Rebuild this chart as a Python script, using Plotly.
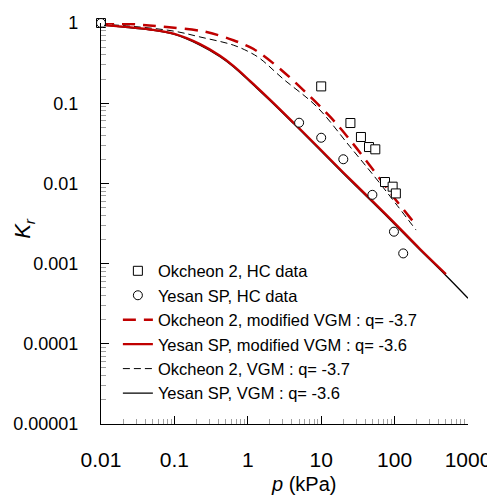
import plotly.graph_objects as go

# ---- data ----
ok_data_p = [0.01, 10, 25, 34.8, 44.8, 54.6, 74, 94, 104]
ok_data_k = [1.0, 0.162, 0.0566, 0.0379, 0.0284, 0.0266, 0.0104, 0.0091, 0.0075]

ye_data_p = [0.01, 5.0, 10, 20, 49.8, 98, 131]
ye_data_k = [1.0, 0.0571, 0.0371, 0.020, 0.0072, 0.0025, 0.00134]

ok_mod_p = [0.01, 0.03, 0.0786, 0.261, 0.636, 1.07, 1.47, 3.05, 6.34, 13.2, 24.7, 51.3, 96, 180]
ok_mod_k = [1.0, 0.96, 0.89, 0.78, 0.61, 0.50, 0.42, 0.247, 0.133, 0.068, 0.0348, 0.0147, 0.00683, 0.00333]

ye_mod_p = [0.01, 0.02, 0.0465, 0.1, 0.223, 0.418, 0.636, 1.07, 2, 4.17, 8.7, 20, 50, 100, 222, 500]
ye_mod_k = [0.95, 0.90, 0.83, 0.73, 0.545, 0.39, 0.292, 0.19, 0.111, 0.0575, 0.0295, 0.0137, 0.0060, 0.0032, 0.00152, 0.00074]

ok_vgm_p = [0.01, 0.03, 0.1, 0.223, 0.636, 1.07, 1.47, 3.05, 8.7, 24.7, 63.2, 196]
ok_vgm_k = [0.97, 0.90, 0.79, 0.67, 0.53, 0.43, 0.36, 0.20, 0.0905, 0.0287, 0.0100, 0.00262]

ye_vgm_p = [0.01, 0.02, 0.0465, 0.1, 0.223, 0.418, 0.636, 1.07, 2, 4.17, 8.7, 20, 50, 100, 222, 500, 1000]
ye_vgm_k = [0.94, 0.89, 0.82, 0.72, 0.53, 0.38, 0.285, 0.185, 0.108, 0.056, 0.0287, 0.0133, 0.0058, 0.0031, 0.00148, 0.00071, 0.00037]

x_tickvals = [0.01, 0.1, 1, 10, 100, 1000]
x_ticktext = ["0.01", "0.1", "1", "10", "100", "1000"]
y_tickvals = [0.00001, 0.0001, 0.001, 0.01, 0.1, 1]
y_ticktext = ["0.00001", "0.0001", "0.001", "0.01", "0.1", "1"]

names = [
    "Okcheon 2, HC data",
    "Yesan SP, HC data",
    "Okcheon 2, modified VGM : q= -3.7",
    "Yesan SP, modified VGM : q= -3.6",
    "Okcheon 2, VGM : q= -3.7",
    "Yesan SP, VGM : q= -3.6",
]

RED = "#C00000"
FONT = "Arial, Liberation Sans, sans-serif"

fig = go.Figure()

# draw order: black lines, red lines, markers on top
fig.add_trace(go.Scatter(x=ok_vgm_p, y=ok_vgm_k, mode="lines", name=names[4], legendrank=5,
                         line=dict(color="black", width=1, dash="7px,4px", shape="spline")))
fig.add_trace(go.Scatter(x=ye_vgm_p, y=ye_vgm_k, mode="lines", name=names[5], legendrank=6,
                         line=dict(color="black", width=1.3, shape="spline")))
fig.add_trace(go.Scatter(x=ok_mod_p, y=ok_mod_k, mode="lines", name=names[2], legendrank=3,
                         line=dict(color=RED, width=2.5, dash="13px,8px", shape="spline")))
fig.add_trace(go.Scatter(x=ye_mod_p, y=ye_mod_k, mode="lines", name=names[3], legendrank=4,
                         line=dict(color=RED, width=2.3, shape="spline")))
fig.add_trace(go.Scatter(x=ok_data_p, y=ok_data_k, mode="markers", name=names[0], legendrank=1,
                         cliponaxis=False,
                         marker=dict(symbol="square", size=9, color="white",
                                     line=dict(color="black", width=1))))
fig.add_trace(go.Scatter(x=ye_data_p, y=ye_data_k, mode="markers", name=names[1], legendrank=2,
                         cliponaxis=False,
                         marker=dict(symbol="circle", size=9, color="white",
                                     line=dict(color="black", width=1))))

def minor_vals(lo, hi):
    vals = []
    for e in range(lo, hi):
        for m in range(2, 10):
            vals.append(m * 10.0 ** e)
    return vals

fig.update_layout(
    width=487, height=496,
    margin=dict(l=93, r=27, t=15, b=80),
    paper_bgcolor="white", plot_bgcolor="white",
    font=dict(family=FONT, color="black"),
    showlegend=True,
    legend=dict(x=0.046, y=0.425, xanchor="left", yanchor="top",
                bgcolor="rgba(0,0,0,0)", font=dict(size=16.5, family=FONT, color="black"),
                tracegroupgap=0),
    xaxis=dict(type="log", range=[-2, 3], showgrid=False, zeroline=False, automargin=False,
               showline=True, linecolor="black", linewidth=1.3,
               ticks="inside", ticklen=8, tickcolor="black", tickwidth=1,
               tickmode="array", tickvals=x_tickvals, ticktext=x_ticktext,
               tickfont=dict(size=21, family=FONT, color="black"),
               ticklabelstandoff=17,
               minor=dict(ticks="inside", ticklen=5, tickcolor="#a0a0a0", tickwidth=1,
                          tickvals=minor_vals(-2, 3), showgrid=False)),
    yaxis=dict(type="log", range=[-5, 0], showgrid=False, zeroline=False, automargin=False,
               showline=True, linecolor="black", linewidth=1.3,
               ticks="inside", ticklen=8, tickcolor="black", tickwidth=1,
               tickmode="array", tickvals=y_tickvals, ticktext=y_ticktext,
               tickfont=dict(size=18, family=FONT, color="black"),
               ticklabelstandoff=18,
               minor=dict(ticks="inside", ticklen=5, tickcolor="#a0a0a0", tickwidth=1,
                          tickvals=minor_vals(-5, 0), showgrid=False)),
    annotations=[
        dict(text="<i>K<sub>r</sub></i>", x=-0.21, y=0.489, xref="paper", yref="paper",
             xanchor="center", yanchor="middle", textangle=-90, showarrow=False,
             font=dict(size=22, family=FONT, color="black")),
        dict(text="<i>p</i> (kPa)", x=0.553, y=-0.15, xref="paper", yref="paper",
             xanchor="center", yanchor="middle", showarrow=False,
             font=dict(size=20, family=FONT, color="black")),
    ],
)

fig.write_html("out.html")
